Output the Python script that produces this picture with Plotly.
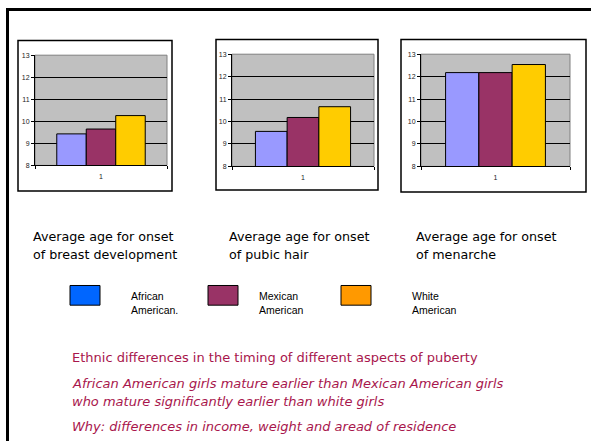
import plotly.graph_objects as go

# ---------------- data ----------------
groups = ["African American.", "Mexican American", "White American"]
category = ["1"]
breast_dev = [9.43, 9.65, 10.26]
pubic_hair = [9.56, 10.18, 10.66]
menarche = [12.18, 12.18, 12.54]
y_ticks = [8, 9, 10, 11, 12, 13]

bar_colors = ["#9999FF", "#993366", "#FFCC00"]
legend_colors = ["#0066FF", "#993366", "#FF9900"]
legend_lines = [["African", "American."], ["Mexican", "American"], ["White", "American"]]

panel_titles = [
    ["Average age for onset", "of breast development"],
    ["Average age for onset", "of pubic hair"],
    ["Average age for onset", "of menarche"],
]
notes = [
    ("Ethnic differences in the timing of different aspects of puberty", False),
    ("African American girls mature earlier than Mexican American girls", True),
    ("who mature significantly earlier than white girls", True),
    ("Why: differences in income, weight and aread of residence", True),
]

W, H = 591, 444


def px(x):
    return x / W


def py(y):
    return 1 - y / H


fig = go.Figure()

# plot areas (pixel boxes) and outer chart boxes
plot_boxes = [(35, 52, 167, 164), (232, 51, 374, 165), (421, 51, 570, 165)]
outer_boxes = [(18, 37, 172, 190), (216, 36, 378, 189), (401, 36, 586, 191)]
series_sets = [breast_dev, pubic_hair, menarche]

for i, (vals, pb) in enumerate(zip(series_sets, plot_boxes)):
    xa = "x" if i == 0 else f"x{i+1}"
    ya = "y" if i == 0 else f"y{i+1}"
    for j, g in enumerate(groups):
        fig.add_trace(go.Bar(
            x=[0], y=[vals[j]], name=g, xaxis=xa, yaxis=ya,
            marker=dict(color=bar_colors[j], line=dict(color="black", width=1)),
            showlegend=False,
        ))
    xkey = "xaxis" if i == 0 else f"xaxis{i+1}"
    ykey = "yaxis" if i == 0 else f"yaxis{i+1}"
    x0, y0, x1, y1 = pb
    fig.update_layout(**{
        xkey: dict(
            domain=[px(x0), px(x1)], range=[-0.5, 0.5], anchor=ya,
            tickvals=[0], ticktext=category, ticks="outside", ticklen=0,
            showgrid=False, zeroline=False, showline=True, linecolor="black", linewidth=1,
            tickfont=dict(size=7, color="#222", family="Liberation Sans"),
            ticklabelstandoff=4,
            minor=dict(tickvals=[-0.5, 0.5], ticks="outside", ticklen=3, tickcolor="black", showgrid=False),
            fixedrange=True,
        ),
        ykey: dict(
            domain=[py(y1), py(y0)], range=[8, 13], anchor=xa,
            tickvals=y_ticks, ticks="outside", ticklen=3, tickcolor="black",
            showgrid=True, gridcolor="black", gridwidth=1, zeroline=False,
            showline=True, linecolor="black", linewidth=1,
            tickfont=dict(size=7, color="#222", family="Liberation Sans"),
            fixedrange=True,
        ),
    })
    # gray plot-area border (top/right)
    fig.add_shape(type="rect", xref=f"{xa} domain", yref=f"{ya} domain",
                  x0=0, y0=0, x1=1, y1=1, line=dict(color="#808080", width=1),
                  layer="below")
    # outer chart box
    bx0, by0, bx1, by1 = outer_boxes[i]
    fig.add_shape(type="rect", xref="paper", yref="paper",
                  x0=px(bx0), y0=py(by1), x1=px(bx1), y1=py(by0),
                  line=dict(color="black", width=1.5))

# outer slide frame (top and left)
fig.add_shape(type="line", xref="paper", yref="paper", x0=px(6), y0=py(5.5), x1=1.0, y1=py(5.5),
              line=dict(color="black", width=3))
fig.add_shape(type="line", xref="paper", yref="paper", x0=px(7.5), y0=py(4), x1=px(7.5), y1=0,
              line=dict(color="black", width=3))

# panel titles
title_x = [33, 229, 416]
for tx, lines in zip(title_x, panel_titles):
    for k, line in enumerate(lines):
        fig.add_annotation(x=px(tx), y=py(236 + 18.5 * k), xref="paper", yref="paper",
                           text=line, showarrow=False, xanchor="left", yanchor="middle",
                           xshift=-2,
                           font=dict(family="DejaVu Sans", size=12.7, color="black"))

# legend
leg_box_x = [70, 208, 341]
leg_text_x = [131, 259, 412]
for c, bx, tx, lines in zip(legend_colors, leg_box_x, leg_text_x, legend_lines):
    fig.add_shape(type="rect", xref="paper", yref="paper",
                  x0=px(bx), y0=py(306), x1=px(bx + 30), y1=py(286),
                  fillcolor=c, line=dict(color="black", width=1))
    for k, line in enumerate(lines):
        fig.add_annotation(x=px(tx), y=py(296.5 + 14.5 * k), xref="paper", yref="paper",
                           text=line, showarrow=False, xanchor="left", yanchor="middle",
                           xshift=-2,
                           font=dict(family="Liberation Sans", size=10.5, color="black"))

# notes
note_y = [359, 386, 404, 429]
for (txt, ital), ny in zip(notes, note_y):
    fig.add_annotation(x=px(72), y=py(ny), xref="paper", yref="paper",
                       text=f"<i>{txt}</i>" if ital else txt, showarrow=False,
                       xanchor="left", yanchor="middle", xshift=-2,
                       font=dict(family="DejaVu Sans", size=13, color="#A8164C"))

fig.update_layout(
    width=W, height=H, margin=dict(l=0, r=0, t=0, b=0),
    paper_bgcolor="white", plot_bgcolor="#C0C0C0",
    barmode="group", bargap=0.33, bargroupgap=0,
    showlegend=False,
)

fig.write_html("out.html", config={"displayModeBar": False},
               post_script="document.body.style.margin='0px';document.body.style.padding='0px';")
